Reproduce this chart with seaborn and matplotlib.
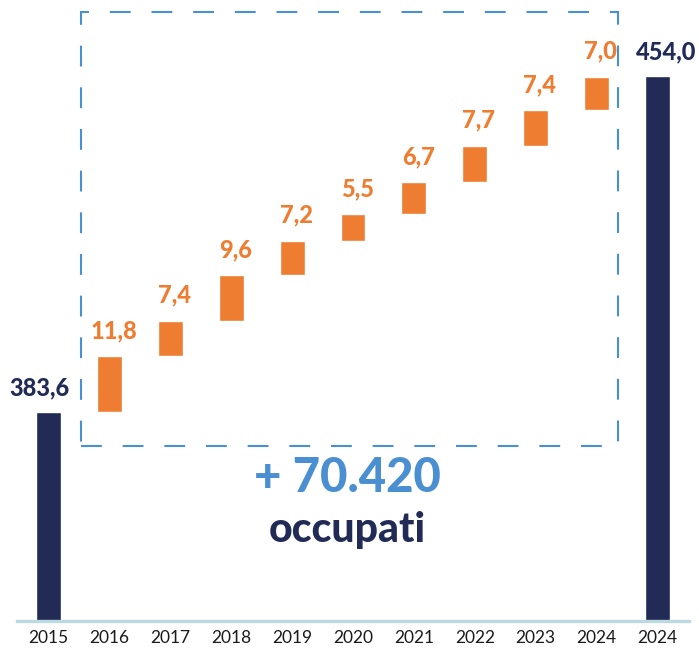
import numpy as np
import pandas as pd
import seaborn as sns
import matplotlib.pyplot as plt
from matplotlib.patches import Rectangle

# data (migliaia di occupati)
years = ["2015", "2016", "2017", "2018", "2019", "2020", "2021", "2022", "2023", "2024", "2024"]
start_total = 383.6
end_total = 454.0
increments = [11.8, 7.4, 9.6, 7.2, 5.5, 6.7, 7.7, 7.4, 7.0]
headline = "+ 70.420"
subline = "occupati"

NAVY = "#212b55"
ORANGE = "#ee7d31"
BLUE = "#4a8fd2"
AXIS = "#bcd9e0"

sns.set_theme(style="white")
plt.rcParams["font.family"] = ["Lato", "DejaVu Sans"]
plt.rcParams["lines.scale_dashes"] = False


def fmt(v):
    return f"{v:.1f}".replace(".", ",")


# unique keys because "2024" appears twice
keys = [f"k{i}" for i in range(len(years))]
bottoms = start_total + np.concatenate([[0], np.cumsum(increments)[:-1]])

tot = pd.DataFrame({"key": [keys[0], keys[-1]], "value": [start_total, end_total]})
inc = pd.DataFrame({"key": keys[1:-1], "value": increments, "bottom": bottoms})

fig = plt.figure(figsize=(6.99, 6.5), dpi=100)
ax = fig.add_axes([17 / 699, 29.5 / 650, 672 / 699, 620.5 / 650])

sns.barplot(data=tot, x="key", y="value", order=keys, color=NAVY,
            saturation=1, width=0.41, ax=ax)
sns.barplot(data=inc, x="key", y="value", order=keys, color=ORANGE,
            saturation=1, width=0.41, bottom=inc["bottom"].to_numpy(), ax=ax)

ax.set_xlim(-0.517, 10.517)
ax.set_ylim(340, 470)
ax.set_xlabel("")
ax.set_ylabel("")
ax.set_yticks([])
ax.set_xticks(range(len(years)))
ax.set_xticklabels(years, fontsize=12.5, color="#1a1a1a")
ax.tick_params(axis="x", length=0, pad=7)
for s in ["top", "left", "right"]:
    ax.spines[s].set_visible(False)
ax.spines["bottom"].set_color(AXIS)
ax.spines["bottom"].set_linewidth(2.4)

# value labels
lab = dict(textcoords="offset points", ha="center", va="baseline",
           fontsize=17, fontweight="black", annotation_clip=False)
for i, (b, v) in enumerate(zip(bottoms, increments)):
    ax.annotate(fmt(v), (i + 1, b + v), xytext=(3, 13), color=ORANGE, **lab)
ax.annotate(fmt(start_total), (0, start_total), xytext=(-6.5, 12), color=NAVY, **lab)
ax.annotate(fmt(end_total), (len(years) - 1, end_total), xytext=(6.5, 12), color=NAVY, **lab)

# dashed frame around the yearly increments
frame = Rectangle((80.7 / 699, 1 - 446 / 650), 537 / 699, 433.7 / 650,
                  transform=fig.transFigure, fill=False, edgecolor=BLUE,
                  linewidth=1.5, linestyle=(0, (15, 15)))
fig.add_artist(frame)

fig.text(347 / 699, 1 - 492 / 650, headline, ha="center", va="baseline",
         fontsize=34, fontweight="black", color=BLUE)
fig.text(347 / 699, 1 - 541.7 / 650, subline, ha="center", va="baseline",
         fontsize=29.5, fontweight="black", color=NAVY)

fig.savefig("out.png", dpi=100)
